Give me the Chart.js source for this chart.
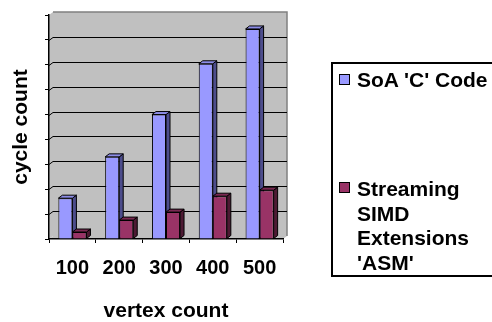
<!DOCTYPE html>
<html>
<head>
<meta charset="utf-8">
<script src="https://cdn.jsdelivr.net/npm/chart.js@4/dist/chart.umd.min.js"></script>
<style>
  body { margin: 0; background: #fff; }
  #wrap { position: relative; width: 492px; height: 322px; overflow: hidden; }
  #legend { position: absolute; left: 331px; top: 62px; width: 180px; height: 215px; border: 2px solid #000; box-sizing: border-box; }
  .item { position: absolute; left: 0; width: 165px; font: bold 21px "Liberation Sans", Arial, sans-serif; line-height: 24.5px; color: #000; }
  .item .sw { position: absolute; left: 6px; width: 9px; height: 9px; border: 1.5px solid #000; }
  .item .txt { position: absolute; left: 24px; width: 138px; }
</style>
</head>
<body>
<div id="wrap">
  <canvas id="barChart" width="492" height="322"></canvas>
  <div id="legend"></div>
</div>
<script>
var categories = ['100', '200', '300', '400', '500'];
var seriesNames = ["SoA 'C' Code", "Streaming SIMD Extensions 'ASM'"];
var soaValues = [1.64, 3.3, 5.0, 7.04, 8.44];
var simdValues = [0.28, 0.76, 1.08, 1.72, 1.96];
var yTicks = [0, 1, 2, 3, 4, 5, 6, 7, 8, 9];

var frontColors = ['#9999FF', '#993366'];
var sideColors = ['#4D4D8C', '#4D1A33'];
var topColors = ['#8C8CE6', '#7A2952'];
var DX = 4, DY = 3;

// back wall, left wall and gridlines (drawn before the axes)
var wallPlugin = {
  id: 'wall',
  beforeDraw: function(chart) {
    var a = chart.chartArea, c = chart.ctx, ys = chart.scales.y;
    c.save();
    c.fillStyle = '#C0C0C0';
    c.fillRect(a.left + DX, a.top - DY, a.right - a.left, a.bottom - a.top);
    c.beginPath();
    c.moveTo(a.left, a.top); c.lineTo(a.left + DX, a.top - DY);
    c.lineTo(a.left + DX, a.bottom - DY); c.lineTo(a.left, a.bottom);
    c.closePath(); c.fill();
    c.beginPath();
    c.moveTo(a.left, a.bottom); c.lineTo(a.left + DX, a.bottom - DY);
    c.lineTo(a.right + DX, a.bottom - DY); c.lineTo(a.right, a.bottom);
    c.closePath(); c.fill();
    c.strokeStyle = '#808080'; c.lineWidth = 1.5;
    c.beginPath();
    c.moveTo(a.left + DX, a.top - DY); c.lineTo(a.right + DX, a.top - DY);
    c.lineTo(a.right + DX, a.bottom - DY);
    c.stroke();
    c.strokeStyle = '#000'; c.lineWidth = 1;
    yTicks.forEach(function(v) {
      if (v === 0 || v === yTicks[yTicks.length - 1]) return;
      var y = Math.round(ys.getPixelForValue(v) - DY) + 0.5;
      c.beginPath();
      c.moveTo(a.left, y + DY); c.lineTo(a.left + DX, y);
      c.lineTo(a.right + DX, y);
      c.stroke();
    });
    c.restore();
  },
  // side and top faces of each bar, before the front faces
  beforeDatasetsDraw: function(chart) {
    var c = chart.ctx;
    c.save();
    c.strokeStyle = '#000'; c.lineWidth = 1;
    var n = chart.data.labels.length;
    for (var j = 0; j < n; j++) {
      for (var i = 0; i < chart.data.datasets.length; i++) {
        var el = chart.getDatasetMeta(i).data[j];
        var p = el.getProps(['x', 'y', 'base', 'width'], true);
        var l = p.x - p.width / 2, r = p.x + p.width / 2;
        c.fillStyle = sideColors[i];
        c.beginPath();
        c.moveTo(r, p.y); c.lineTo(r + DX, p.y - DY);
        c.lineTo(r + DX, p.base - DY); c.lineTo(r, p.base);
        c.closePath(); c.fill(); c.stroke();
        c.fillStyle = topColors[i];
        c.beginPath();
        c.moveTo(l, p.y); c.lineTo(l + DX, p.y - DY);
        c.lineTo(r + DX, p.y - DY); c.lineTo(r, p.y);
        c.closePath(); c.fill(); c.stroke();
      }
    }
    c.restore();
  }
};

var boldFont = { family: '"Liberation Sans", Arial, sans-serif', weight: 'bold' };

var ctx = document.getElementById('barChart').getContext('2d');
var barChart = new Chart(ctx, {
  type: 'bar',
  data: {
    labels: categories,
    datasets: [{
      label: seriesNames[0],
      data: soaValues,
      backgroundColor: frontColors[0],
      borderColor: '#000',
      borderWidth: 1,
      categoryPercentage: 0.6,
      barPercentage: 1
    }, {
      label: seriesNames[1],
      data: simdValues,
      backgroundColor: frontColors[1],
      borderColor: '#000',
      borderWidth: 1,
      categoryPercentage: 0.6,
      barPercentage: 1
    }]
  },
  options: {
    responsive: false,
    animation: false,
    layout: { padding: { top: 15, right: 209, left: 0, bottom: 0 } },
    plugins: {
      legend: { display: false },
      tooltip: { enabled: false }
    },
    scales: {
      x: {
        afterFit: function(s) { s.height = 83; },
        grid: { drawOnChartArea: false, tickLength: 4, color: '#000', offset: true },
        border: { color: '#000', width: 1.5 },
        ticks: { color: '#000', padding: 13, font: Object.assign({ size: 20 }, boldFont) },
        title: {
          display: true, text: 'vertex count', color: '#000',
          font: Object.assign({ size: 21, lineHeight: 1 }, boldFont),
          padding: { top: 4, bottom: 0 }
        }
      },
      y: {
        min: 0, max: 9,
        afterFit: function(s) { s.width = 49; },
        afterBuildTicks: function(s) { s.ticks = yTicks.map(function(v) { return { value: v }; }); },
        grid: { drawOnChartArea: false, tickLength: 4, color: '#000' },
        border: { color: '#000', width: 1.5 },
        ticks: { display: false },
        title: {
          display: true, text: 'cycle count', color: '#000',
          font: Object.assign({ size: 21 }, boldFont),
          padding: { top: 9, bottom: 0 }
        }
      }
    }
  },
  plugins: [wallPlugin]
});

// legend box with wrapped labels
var legendTops = [67.5, 177];
var swatchTops = [10, 118];
var lg = document.getElementById('legend');
seriesNames.forEach(function(name, i) {
  var d = document.createElement('div');
  d.className = 'item';
  d.style.top = '0px';
  var sw = document.createElement('div');
  sw.className = 'sw';
  sw.style.top = swatchTops[i] + 'px';
  sw.style.background = frontColors[i];
  var t = document.createElement('div');
  t.className = 'txt';
  t.style.top = (legendTops[i] - 64) + 'px';
  t.textContent = name;
  d.appendChild(sw); d.appendChild(t);
  lg.appendChild(d);
});
</script>
</body>
</html>
